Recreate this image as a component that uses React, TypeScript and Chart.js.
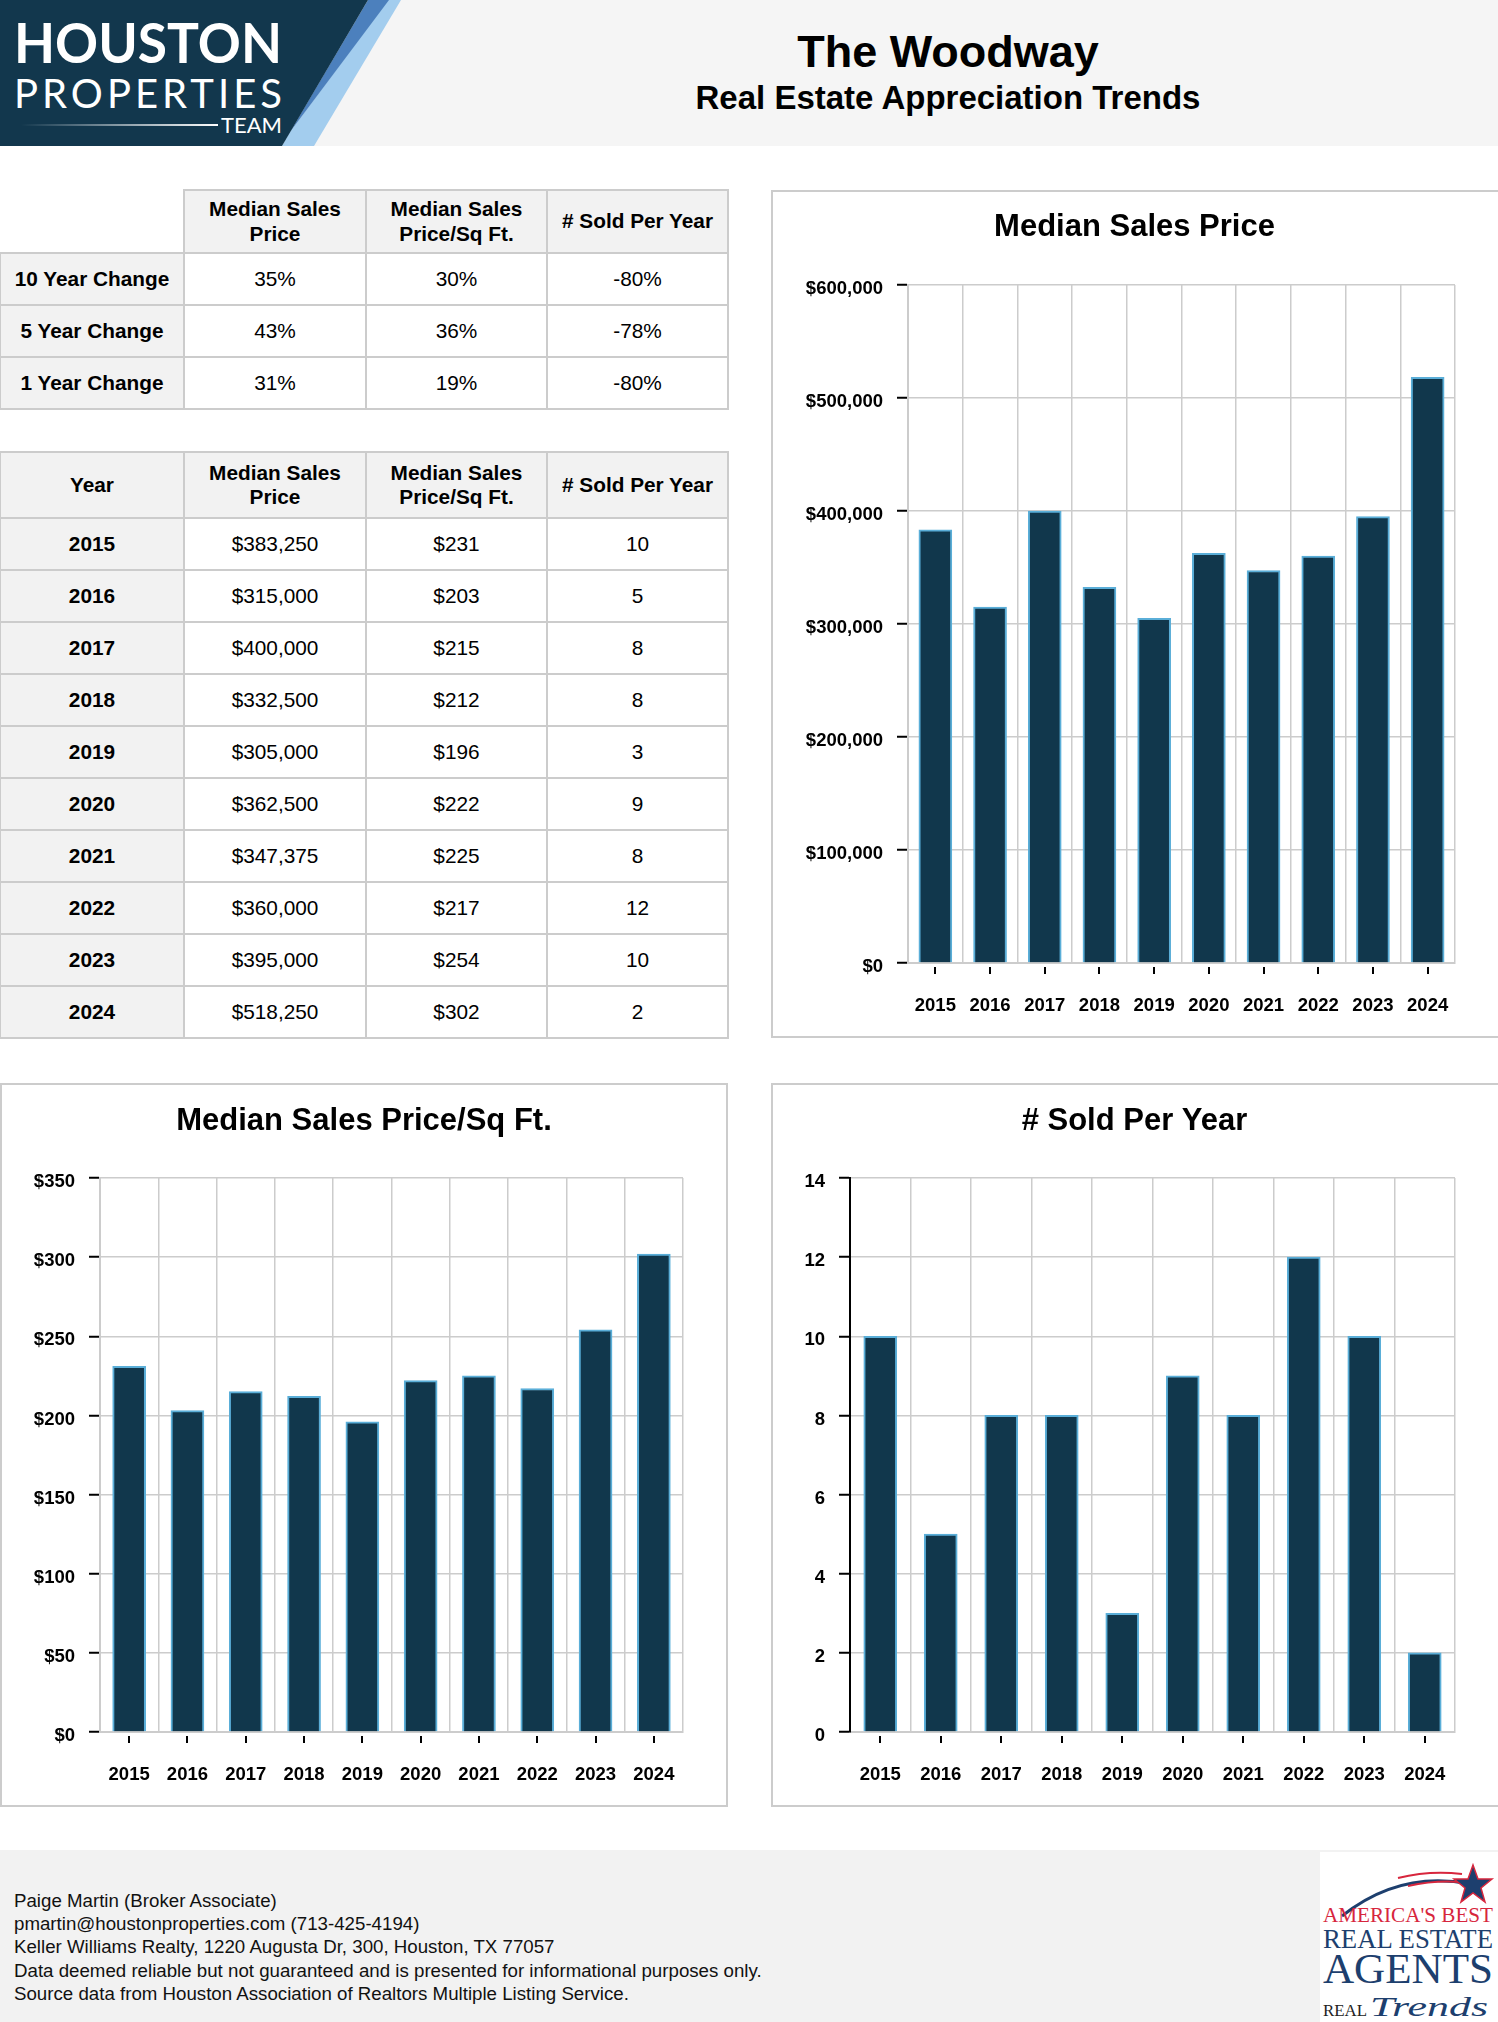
import React, { useEffect, useRef } from "react";
import { Chart, registerables } from "chart.js";

Chart.register(...registerables);

// ---------- data ----------
const YEARS = ["2015", "2016", "2017", "2018", "2019", "2020", "2021", "2022", "2023", "2024"];
const MEDIAN_PRICE = [383250, 315000, 400000, 332500, 305000, 362500, 347375, 360000, 395000, 518250];
const PRICE_PER_SQFT = [231, 203, 215, 212, 196, 222, 225, 217, 254, 302];
const SOLD_PER_YEAR = [10, 5, 8, 8, 3, 9, 8, 12, 10, 2];

const CHANGE_LABELS = ["10 Year Change", "5 Year Change", "1 Year Change"];
const CHANGE_PRICE = ["35%", "43%", "31%"];
const CHANGE_PSF = ["30%", "36%", "19%"];
const CHANGE_SOLD = ["-80%", "-78%", "-80%"];

const PRICE_AXIS = { max: 600000, step: 100000 };
const PSF_AXIS = { max: 350, step: 50 };
const SOLD_AXIS = { max: 14, step: 2 };

const FOOTER_LINES = [
  "Paige Martin (Broker Associate)",
  "pmartin@houstonproperties.com (713-425-4194)",
  "Keller Williams Realty, 1220 Augusta Dr, 300, Houston, TX 77057",
  "Data deemed reliable but not guaranteed and is presented for informational purposes only.",
  "Source data from Houston Association of Realtors Multiple Listing Service.",
];

// ---------- styles ----------
const FONT = '"Liberation Sans", Arial, Helvetica, sans-serif';
const NAVY = "#11374c";
const LIGHT_BLUE = "#5aaed8";
const GRID = "#cccccc";
const CELL_BORDER = "#cccccc";

const money = (v: number) => "$" + Number(v).toLocaleString("en-US");
const plain = (v: number) => String(v);

type ChartProps = {
  left: number;
  top: number;
  boxWidth: number;
  canvasWidth: number;
  height: number;
  plot: { left: number; right: number; top: number; bottom: number };
  title: string;
  titleY: number;
  values: number[];
  max: number;
  step: number;
  fmt: (v: number) => string;
  axisColor: string;
};

function BarChartBox(p: ChartProps) {
  const ref = useRef<HTMLCanvasElement | null>(null);
  useEffect(() => {
    if (!ref.current) return;
    const titlePlugin = {
      id: "boxTitle",
      afterDraw(chart: any) {
        const ctx = chart.ctx;
        ctx.save();
        ctx.font = `bold 31px ${FONT}`;
        ctx.fillStyle = "#000";
        ctx.textAlign = "center";
        ctx.textBaseline = "middle";
        ctx.fillText(p.title, chart.width / 2, p.titleY);
        ctx.restore();
      },
    };
    const tickPlugin = {
      id: "xTickMarks",
      afterDraw(chart: any) {
        const xs = chart.scales.x;
        const ctx = chart.ctx;
        const b = chart.chartArea.bottom;
        ctx.save();
        ctx.strokeStyle = "#000";
        ctx.lineWidth = 2;
        xs.ticks.forEach((_: any, i: number) => {
          const px = Math.round(xs.getPixelForTick(i));
          ctx.beginPath();
          ctx.moveTo(px, b + 4);
          ctx.lineTo(px, b + 11);
          ctx.stroke();
        });
        ctx.restore();
      },
    };
    const tickFont = { family: FONT, size: 18.5, weight: "bold" as const };
    const chart = new Chart(ref.current, {
      type: "bar",
      data: {
        labels: YEARS,
        datasets: [
          {
            data: p.values,
            backgroundColor: NAVY,
            borderColor: LIGHT_BLUE,
            borderWidth: 2,
            barThickness: 33,
          },
        ],
      },
      options: {
        animation: false,
        responsive: false,
        maintainAspectRatio: false,
        devicePixelRatio: 1,
        layout: {
          padding: { top: p.plot.top, left: 0, right: p.canvasWidth - p.plot.right, bottom: 0 },
        },
        plugins: {
          legend: { display: false },
          tooltip: { enabled: false },
          title: { display: false },
        },
        scales: {
          x: {
            z: 1,
            grid: { color: GRID, lineWidth: 1.5, drawTicks: false, offset: true },
            border: { color: GRID, width: 2 },
            ticks: { font: tickFont, color: "#000", padding: 32, maxRotation: 0, autoSkip: false },
            afterFit: (s: any) => {
              s.height = p.height - p.plot.bottom;
            },
          },
          y: {
            z: 1,
            min: 0,
            max: p.max,
            ticks: {
              stepSize: p.step,
              font: tickFont,
              color: "#000",
              padding: 14,
              labelOffset: 4,
              callback: (v: any) => p.fmt(Number(v)),
            },
            grid: { color: GRID, lineWidth: 1.5, tickColor: "#000", tickLength: 11, tickWidth: 2 },
            border: { color: p.axisColor, width: 2 },
            afterFit: (s: any) => {
              s.width = p.plot.left;
            },
          },
        },
      } as any,
      plugins: [titlePlugin, tickPlugin],
    });
    return () => chart.destroy();
  }, []);
  return (
    <div
      style={{
        position: "absolute",
        left: p.left,
        top: p.top,
        width: p.boxWidth,
        height: p.height,
        border: "2px solid #cccccc",
        boxSizing: "border-box",
        background: "#fff",
      }}
    >
      <canvas
        ref={ref}
        width={p.canvasWidth}
        height={p.height}
        style={{ position: "absolute", left: -2, top: -2, width: p.canvasWidth, height: p.height }}
      />
    </div>
  );
}

// ---------- tables ----------
const COL_X = [0, 184, 366, 547, 728];

function Cell(props: {
  x0: number;
  x1: number;
  y0: number;
  y1: number;
  gray?: boolean;
  bold?: boolean;
  children?: React.ReactNode;
}) {
  const { x0, x1, y0, y1, gray, bold, children } = props;
  return (
    <div
      style={{
        position: "absolute",
        left: x0 - 1,
        top: y0 - 1,
        width: x1 - x0 + 2,
        height: y1 - y0 + 2,
        border: `2px solid ${CELL_BORDER}`,
        boxSizing: "border-box",
        background: gray ? "#f2f2f2" : "#ffffff",
        display: "flex",
        alignItems: "center",
        justifyContent: "center",
        textAlign: "center",
        fontFamily: FONT,
        fontWeight: bold ? "bold" : "normal",
        fontSize: 20.8,
        lineHeight: "24.5px",
        color: "#000",
      }}
    >
      <div>{children}</div>
    </div>
  );
}

const HEADERS = [
  <>Median Sales<br />Price</>,
  <>Median Sales<br />Price/Sq Ft.</>,
  <># Sold Per Year</>,
];

function ChangeTable() {
  const ys = [190, 253, 305, 357, 409];
  const cells: React.ReactNode[] = [];
  HEADERS.forEach((h, c) =>
    cells.push(
      <Cell key={"h" + c} x0={COL_X[c + 1]} x1={COL_X[c + 2]} y0={ys[0]} y1={ys[1]} gray bold>
        {h}
      </Cell>
    )
  );
  CHANGE_LABELS.forEach((lab, r) => {
    const y0 = ys[r + 1];
    const y1 = ys[r + 2];
    cells.push(<Cell key={"l" + r} x0={COL_X[0]} x1={COL_X[1]} y0={y0} y1={y1} gray bold>{lab}</Cell>);
    cells.push(<Cell key={"a" + r} x0={COL_X[1]} x1={COL_X[2]} y0={y0} y1={y1}>{CHANGE_PRICE[r]}</Cell>);
    cells.push(<Cell key={"b" + r} x0={COL_X[2]} x1={COL_X[3]} y0={y0} y1={y1}>{CHANGE_PSF[r]}</Cell>);
    cells.push(<Cell key={"c" + r} x0={COL_X[3]} x1={COL_X[4]} y0={y0} y1={y1}>{CHANGE_SOLD[r]}</Cell>);
  });
  return <>{cells}</>;
}

function YearTable() {
  const top = 452;
  const headBottom = 518;
  const rowH = 52;
  const cells: React.ReactNode[] = [];
  cells.push(<Cell key="hy" x0={COL_X[0]} x1={COL_X[1]} y0={top} y1={headBottom} gray bold>Year</Cell>);
  HEADERS.forEach((h, c) =>
    cells.push(
      <Cell key={"h" + c} x0={COL_X[c + 1]} x1={COL_X[c + 2]} y0={top} y1={headBottom} gray bold>
        {h}
      </Cell>
    )
  );
  YEARS.forEach((yr, r) => {
    const y0 = headBottom + r * rowH;
    const y1 = y0 + rowH;
    cells.push(<Cell key={"y" + r} x0={COL_X[0]} x1={COL_X[1]} y0={y0} y1={y1} gray bold>{yr}</Cell>);
    cells.push(<Cell key={"p" + r} x0={COL_X[1]} x1={COL_X[2]} y0={y0} y1={y1}>{money(MEDIAN_PRICE[r])}</Cell>);
    cells.push(<Cell key={"s" + r} x0={COL_X[2]} x1={COL_X[3]} y0={y0} y1={y1}>{money(PRICE_PER_SQFT[r])}</Cell>);
    cells.push(<Cell key={"n" + r} x0={COL_X[3]} x1={COL_X[4]} y0={y0} y1={y1}>{plain(SOLD_PER_YEAR[r])}</Cell>);
  });
  return <>{cells}</>;
}

// ---------- header / footer ----------
function Header() {
  return (
    <svg
      width={1498}
      height={146}
      style={{ position: "absolute", left: 0, top: 0 }}
      xmlns="http://www.w3.org/2000/svg"
    >
      <defs>
        <linearGradient id="lineGrad" x1="0" x2="1" y1="0" y2="0">
          <stop offset="0" stopColor="#ffffff" stopOpacity="0" />
          <stop offset="1" stopColor="#ffffff" stopOpacity="1" />
        </linearGradient>
      </defs>
      <rect x={0} y={0} width={1498} height={146} fill="#f5f5f5" />
      <polygon points="388,0 401,0 314,146 282,146 290,132" fill="#a3cdee" />
      <polygon points="368,0 389,0 290,132" fill="#4c80bd" />
      <polygon points="0,0 368,0 282,146 0,146" fill="#12374d" />
      <text
        x={14}
        y={63}
        fill="#fff"
        fontFamily='Lato, "Open Sans", sans-serif'
        fontWeight="bold"
        fontSize={56}
        textLength={268}
        lengthAdjust="spacingAndGlyphs"
      >
        HOUSTON
      </text>
      <text
        x={14}
        y={108}
        fill="#fff"
        fontFamily='Lato, "Open Sans", sans-serif'
        fontSize={40}
        textLength={268}
        lengthAdjust="spacing"
      >
        PROPERTIES
      </text>
      <rect x={21} y={124} width={197} height={2} fill="url(#lineGrad)" />
      <text
        x={221}
        y={133}
        fill="#fff"
        fontFamily='Lato, "Open Sans", sans-serif'
        fontSize={21}
        textLength={61}
        lengthAdjust="spacingAndGlyphs"
      >
        TEAM
      </text>
      <text x={948} y={67} textAnchor="middle" fontFamily={FONT} fontWeight="bold" fontSize={45} fill="#000">
        The Woodway
      </text>
      <text x={948} y={109} textAnchor="middle" fontFamily={FONT} fontWeight="bold" fontSize={33} fill="#000">
        Real Estate Appreciation Trends
      </text>
    </svg>
  );
}

function FooterLogo() {
  return (
    <svg width={178} height={170} style={{ position: "absolute", left: 1320, top: 1852 }} xmlns="http://www.w3.org/2000/svg">
      <rect x={0} y={0} width={178} height={170} fill="#fff" />
      <path d="M 22 64 Q 80 18 150 32" stroke="#1d3f6e" strokeWidth={3} fill="none" />
      <path d="M 78 26 Q 110 18 142 22" stroke="#d7263d" strokeWidth={2} fill="none" />
      <path d="M 88 34 Q 115 28 140 30" stroke="#d7263d" strokeWidth={2} fill="none" />
      <polygon
        points="153,13 158,27 172,27 161,36 165,50 153,41 141,50 145,36 134,27 148,27"
        fill="#1d3f6e"
        stroke="#d7263d"
        strokeWidth={1.5}
      />
      <text x={3} y={70} fill="#d7263d" fontFamily='"Liberation Serif", "DejaVu Serif", serif' fontSize={22} textLength={170} lengthAdjust="spacingAndGlyphs">
        AMERICA'S BEST
      </text>
      <text x={3} y={96} fill="#1d3f6e" fontFamily='"Liberation Serif", "DejaVu Serif", serif' fontSize={28} textLength={170} lengthAdjust="spacingAndGlyphs">
        REAL ESTATE
      </text>
      <text x={3} y={131} fill="#1d3f6e" fontFamily='"Liberation Serif", "DejaVu Serif", serif' fontSize={42} textLength={170} lengthAdjust="spacingAndGlyphs">
        AGENTS
      </text>
      <text x={3} y={164} fill="#222" fontFamily='"Liberation Serif", "DejaVu Serif", serif' fontSize={17} textLength={44} lengthAdjust="spacingAndGlyphs">
        REAL
      </text>
      <text x={50} y={164} fill="#1d3f6e" fontFamily='"Liberation Serif", "DejaVu Serif", serif' fontStyle="italic" fontSize={28} textLength={118} lengthAdjust="spacingAndGlyphs">
        Trends
      </text>
    </svg>
  );
}

function Footer() {
  return (
    <>
      <div style={{ position: "absolute", left: 0, top: 1850, width: 1498, height: 172, background: "#f2f2f2" }} />
      <div
        style={{
          position: "absolute",
          left: 14,
          top: 1889,
          fontFamily: FONT,
          fontSize: 18.7,
          lineHeight: "23.2px",
          color: "#111",
          whiteSpace: "nowrap",
        }}
      >
        {FOOTER_LINES.map((l, i) => (
          <div key={i}>{l}</div>
        ))}
      </div>
      <FooterLogo />
    </>
  );
}

export default function App() {
  return (
    <div
      style={{
        position: "absolute",
        left: 0,
        top: 0,
        width: 1498,
        height: 2022,
        overflow: "hidden",
        background: "#fff",
        fontFamily: FONT,
      }}
    >
      <Header />
      <ChangeTable />
      <YearTable />
      <BarChartBox
        left={771}
        top={190}
        boxWidth={740}
        canvasWidth={727}
        height={848}
        plot={{ left: 137, right: 684, top: 95, bottom: 773 }}
        title="Median Sales Price"
        titleY={37}
        values={MEDIAN_PRICE}
        max={PRICE_AXIS.max}
        step={PRICE_AXIS.step}
        fmt={money}
        axisColor={GRID}
      />
      <BarChartBox
        left={0}
        top={1083}
        boxWidth={728}
        canvasWidth={728}
        height={724}
        plot={{ left: 100, right: 683, top: 95, bottom: 649 }}
        title="Median Sales Price/Sq Ft."
        titleY={38}
        values={PRICE_PER_SQFT}
        max={PSF_AXIS.max}
        step={PSF_AXIS.step}
        fmt={money}
        axisColor={GRID}
      />
      <BarChartBox
        left={771}
        top={1083}
        boxWidth={740}
        canvasWidth={727}
        height={724}
        plot={{ left: 79, right: 684, top: 95, bottom: 649 }}
        title="# Sold Per Year"
        titleY={38}
        values={SOLD_PER_YEAR}
        max={SOLD_AXIS.max}
        step={SOLD_AXIS.step}
        fmt={plain}
        axisColor="#000"
      />
      <Footer />
    </div>
  );
}
